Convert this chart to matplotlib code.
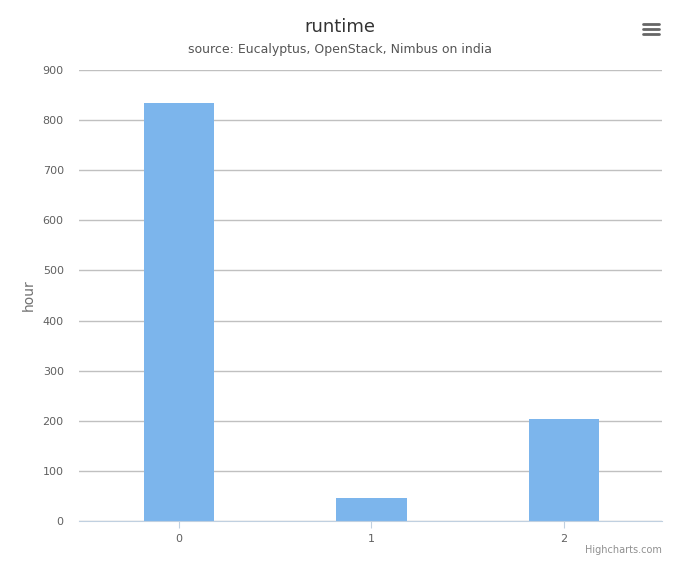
import matplotlib.pyplot as plt
from matplotlib.lines import Line2D

# data
categories = ['0', '1', '2']
runtime_hours = [834, 46, 203]
y_ticks = [0, 100, 200, 300, 400, 500, 600, 700, 800, 900]

W, H = 680, 566
fig = plt.figure(figsize=(W / 100, H / 100), dpi=100)
ax = fig.add_axes([79 / W, (H - 521) / H, (662 - 79) / W, (521 - 70) / H])

x = range(len(categories))
ax.bar(x, runtime_hours, width=0.365, color='#7cb5ec', zorder=3)

ax.set_xlim(-0.52, 2.51)
ax.set_ylim(0, 900)
ax.set_yticks(y_ticks)
ax.set_xticks(list(x))
ax.set_xticklabels(categories)
ax.grid(axis='y', color='#c0c0c0', linewidth=1, zorder=0)

for s in ['top', 'right', 'left']:
    ax.spines[s].set_visible(False)
ax.spines['bottom'].set_color('#c0d0e0')
ax.spines['bottom'].set_zorder(4)
ax.tick_params(axis='y', length=0, pad=11, labelsize=8, labelcolor='#606060')
ax.tick_params(axis='x', length=5, color='#c0d0e0', pad=4, labelsize=8, labelcolor='#606060')

ax.set_ylabel('hour', fontsize=10, color='#707070')
ax.yaxis.set_label_coords((36 - 79) / (662 - 79), 0.5)

fig.text(340 / W, 1 - 27 / H, 'runtime', ha='center', va='center', fontsize=13, color='#333333')
fig.text(340 / W, 1 - 50 / H, 'source: Eucalyptus, OpenStack, Nimbus on india',
         ha='center', va='center', fontsize=9, color='#555555')
fig.text(662 / W, 1 - 550 / H, 'Highcharts.com', ha='right', va='center', fontsize=7, color='#909090')

# export menu icon
for yy in (24, 29, 34):
    fig.add_artist(Line2D([643 / W, 659 / W], [1 - yy / H, 1 - yy / H],
                          color='#666666', linewidth=2.0, solid_capstyle='round'))

fig.savefig('out.png', dpi=100)
